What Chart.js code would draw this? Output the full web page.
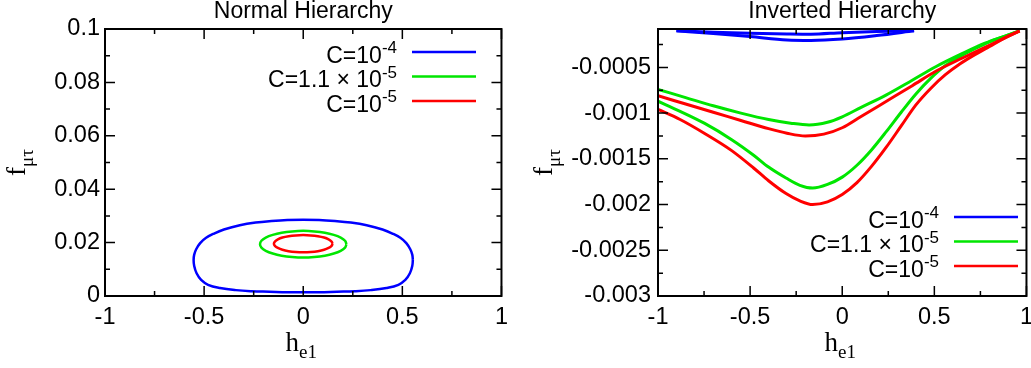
<!DOCTYPE html>
<html>
<head>
<meta charset="utf-8">
<script src="https://cdn.jsdelivr.net/npm/chart.js@4.4.1/dist/chart.umd.min.js"></script>
<style>
  html, body { margin: 0; padding: 0; background: #fff; overflow: hidden; width: 1031px; height: 368px; }
  #normal { position: absolute; left: 0; top: 0; }
  #inverted { position: absolute; left: 515px; top: 0; }
</style>
</head>
<body>
<canvas id="normal" width="515" height="368"></canvas>
<canvas id="inverted" width="525" height="368"></canvas>
<script>
// legend entries
var legendBase = ['C=10', 'C=1.1 \u00d7 10', 'C=10'];
var legendPower = ['-4', '-5', '-5'];
var lineColors = ['#0000ff', '#00e600', '#ff0000'];

// axis ticks
var xTicks = [-1, -0.5, 0, 0.5, 1];
var xTickLabels = ['-1', '-0.5', '0', '0.5', '1'];
var xMinor = [-0.75, -0.25, 0.25, 0.75];
var nhYTicks = [0, 0.02, 0.04, 0.06, 0.08, 0.1];
var nhYTickLabels = ['0', '0.02', '0.04', '0.06', '0.08', '0.1'];
var nhYMinor = [0.01, 0.03, 0.05, 0.07, 0.09];
var ihYTicks = [-0.003, -0.0025, -0.002, -0.0015, -0.001, -0.0005];
var ihYTickLabels = ['-0.003', '-0.0025', '-0.002', '-0.0015', '-0.001', '-0.0005'];
var ihYMinor = [-0.00275, -0.00225, -0.00175, -0.00125, -0.00075, -0.00025];

// Normal hierarchy: closed contours (h_e1, f_mu_tau)
var nhBlueX = [0.553, 0.55, 0.54, 0.52, 0.49, 0.45, 0.40, 0.32, 0.24, 0.16, 0.08, 0, -0.08, -0.16, -0.24, -0.32, -0.40, -0.45, -0.49, -0.52, -0.54, -0.55,
  -0.553, -0.55, -0.538, -0.515, -0.48, -0.42, -0.34, -0.26, -0.17, -0.08, 0, 0.08, 0.17, 0.26, 0.34, 0.42, 0.48, 0.515, 0.538, 0.55, 0.553];
var nhBlueY = [0.0135, 0.0155, 0.0175, 0.0198, 0.0218, 0.0234, 0.0249, 0.0265, 0.0275, 0.0281, 0.0285, 0.0286, 0.0285, 0.0281, 0.0275, 0.0265, 0.0249, 0.0234, 0.0218, 0.0198, 0.0175, 0.0155,
  0.0135, 0.0112, 0.0085, 0.0060, 0.0042, 0.0030, 0.0022, 0.0018, 0.0016, 0.0014, 0.0014, 0.0014, 0.0016, 0.0018, 0.0022, 0.0030, 0.0042, 0.0060, 0.0085, 0.0112, 0.0135];
var nhGreenX = [0.218, 0.211, 0.189, 0.154, 0.109, 0.056, 0, -0.056, -0.109, -0.154, -0.189, -0.211, -0.218, -0.211, -0.189, -0.154, -0.109, -0.056, 0, 0.056, 0.109, 0.154, 0.189, 0.211, 0.218];
var nhGreenY = [0.0194, 0.0207, 0.0219, 0.0229, 0.0237, 0.0242, 0.0244, 0.0242, 0.0237, 0.0229, 0.0219, 0.0207, 0.0194, 0.0181, 0.0169, 0.0159, 0.0151, 0.0146, 0.0144, 0.0146, 0.0151, 0.0159, 0.0169, 0.0181, 0.0194];
var nhRedX = [0.148, 0.143, 0.128, 0.105, 0.074, 0.038, 0, -0.038, -0.074, -0.105, -0.128, -0.143, -0.148, -0.143, -0.128, -0.105, -0.074, -0.038, 0, 0.038, 0.074, 0.105, 0.128, 0.143, 0.148];
var nhRedY = [0.0196, 0.0204, 0.0212, 0.0219, 0.0224, 0.0227, 0.0228, 0.0227, 0.0224, 0.0219, 0.0212, 0.0204, 0.0196, 0.0188, 0.018, 0.0173, 0.0168, 0.0165, 0.0164, 0.0165, 0.0168, 0.0173, 0.018, 0.0188, 0.0196];

// Inverted hierarchy: upper and lower branch of each contour
var ihBlueUpX = [-0.9, -0.7, -0.5, -0.3, -0.17, 0, 0.187, 0.39];
var ihBlueUpY = [-0.0001, -0.000115, -0.000126, -0.000134, -0.000137, -0.00012, -0.000108, -0.0001];
var ihBlueLoX = [-0.9, -0.7, -0.5, -0.3, -0.17, 0, 0.187, 0.39];
var ihBlueLoY = [-0.0001, -0.00013, -0.000163, -0.0002, -0.000205, -0.00019, -0.000152, -0.0001];
var ihGreenUpX = [-1, -0.85, -0.7, -0.55, -0.4, -0.28, -0.18, -0.08, 0, 0.1, 0.24, 0.38, 0.51, 0.65, 0.775, 0.88, 0.963];
var ihGreenUpY = [-0.00074, -0.00083, -0.00092, -0.001, -0.00107, -0.00111, -0.00113, -0.0011, -0.00104, -0.00094, -0.0008, -0.00064, -0.00049, -0.00035, -0.000235, -0.00016, -0.0001];
var ihGreenLoX = [-1, -0.88, -0.749, -0.6, -0.481, -0.4, -0.305, -0.23, -0.16, -0.08, 0, 0.08, 0.16, 0.24, 0.32, 0.40, 0.48, 0.56, 0.64, 0.72, 0.80, 0.88, 0.963];
var ihGreenLoY = [-0.00087, -0.00098, -0.00111, -0.00129, -0.00146, -0.00159, -0.00171, -0.00179, -0.00182, -0.00178, -0.0017, -0.00157, -0.0014, -0.0012, -0.00099, -0.00079, -0.00062, -0.00048, -0.00038, -0.000295, -0.00022, -0.00016, -0.0001];
var ihRedUpX = [-1, -0.85, -0.7, -0.55, -0.4, -0.3, -0.2, -0.1, 0, 0.1, 0.24, 0.38, 0.51, 0.65, 0.775, 0.88, 0.963];
var ihRedUpY = [-0.00081, -0.0009, -0.00099, -0.00108, -0.00117, -0.00122, -0.00125, -0.00123, -0.00116, -0.00104, -0.00087, -0.0007, -0.00054, -0.0004, -0.00028, -0.00018, -0.0001];
var ihRedLoX = [-1, -0.88, -0.749, -0.6, -0.481, -0.4, -0.305, -0.23, -0.16, -0.08, 0, 0.08, 0.16, 0.24, 0.32, 0.40, 0.48, 0.56, 0.64, 0.72, 0.80, 0.88, 0.963];
var ihRedLoY = [-0.00096, -0.00107, -0.00122, -0.00141, -0.0016, -0.00174, -0.00188, -0.00196, -0.002, -0.00197, -0.00189, -0.00176, -0.00158, -0.00137, -0.00114, -0.00091, -0.00073, -0.00058, -0.00046, -0.00036, -0.00027, -0.00018, -0.0001];

var SANS = '"Liberation Sans", Arial, Helvetica, sans-serif';
var SERIF = '"Liberation Serif", "Times New Roman", serif';
Chart.defaults.font.family = SANS;
Chart.defaults.color = '#000';

function pts(xs, ys) {
  var out = [];
  for (var i = 0; i < xs.length; i++) out.push({x: xs[i], y: ys[i]});
  return out;
}

// closed loop, smoothed with bezier tension
function loop(xs, ys, k) {
  return {
    data: pts(xs, ys), showLine: true, borderColor: lineColors[k],
    borderWidth: 2.5, pointRadius: 0, tension: 0.4, order: 3 - k
  };
}
// branch with x increasing
function branch(xs, ys, k) {
  return {
    data: pts(xs, ys), showLine: true, borderColor: lineColors[k],
    borderWidth: 3, pointRadius: 0, cubicInterpolationMode: 'monotone', order: 3 - k
  };
}

// text with a sub/superscript tail, laid out from x0
function drawScript(ctx, main, small, x0, y, fMain, fSmall, shift) {
  ctx.font = fMain;
  var w = ctx.measureText(main).width;
  ctx.fillText(main, x0, y);
  ctx.font = fSmall;
  ctx.fillText(small, x0 + w, y + shift);
}
function scriptWidth(ctx, main, small, fMain, fSmall) {
  ctx.font = fMain;
  var w = ctx.measureText(main).width;
  ctx.font = fSmall;
  return w + ctx.measureText(small).width;
}

var decor = {
  id: 'decor',
  afterDraw: function(chart, args, o) {
    var ctx = chart.ctx, a = chart.chartArea;
    var xs = chart.scales.x, ys = chart.scales.y;
    ctx.save();
    ctx.strokeStyle = '#000';
    ctx.fillStyle = '#000';
    ctx.lineWidth = 1.5;
    ctx.beginPath();
    function xt(list, len) {
      list.forEach(function(v) {
        var p = xs.getPixelForValue(v);
        ctx.moveTo(p, a.bottom); ctx.lineTo(p, a.bottom - len);
        ctx.moveTo(p, a.top); ctx.lineTo(p, a.top + len);
      });
    }
    function yt(list, len) {
      list.forEach(function(v) {
        var p = ys.getPixelForValue(v);
        ctx.moveTo(a.left, p); ctx.lineTo(a.left + len, p);
        ctx.moveTo(a.right, p); ctx.lineTo(a.right - len, p);
      });
    }
    xt(xTicks, 10); xt(xMinor, 5);
    yt(o.yMajor, 10); yt(o.yMinor, 5);
    ctx.stroke();
    ctx.lineWidth = 2;
    ctx.strokeRect(a.left, a.top, a.right - a.left, a.bottom - a.top);

    // legend: right aligned label, then a line sample
    var fMain = '23px ' + SANS, fSup = '17px ' + SANS;
    ctx.textAlign = 'left';
    ctx.textBaseline = 'alphabetic';
    for (var i = 0; i < legendBase.length; i++) {
      var ry = o.legendTop + i * 24.5;
      var w = scriptWidth(ctx, legendBase[i], legendPower[i], fMain, fSup);
      drawScript(ctx, legendBase[i], legendPower[i], o.textRight - w, ry + 10.5, fMain, fSup, -9.5);
      ctx.strokeStyle = lineColors[i];
      ctx.lineWidth = 2.5;
      ctx.beginPath();
      ctx.moveTo(o.textRight + 15, ry);
      ctx.lineTo(o.textRight + 79, ry);
      ctx.stroke();
    }

    // axis titles
    var tMain = '27px ' + SERIF, tSub = '19px ' + SERIF;
    var cx = (a.left + a.right) / 2;
    var wx = scriptWidth(ctx, 'h', 'e1', tMain, tSub);
    drawScript(ctx, 'h', 'e1', cx - wx / 2 - 2, 351, tMain, tSub, 7);
    var cy = (a.top + a.bottom) / 2;
    var wy = scriptWidth(ctx, 'f', '\u03bc\u03c4', tMain, tSub);
    ctx.translate(o.yTitleX, cy);
    ctx.rotate(-Math.PI / 2);
    drawScript(ctx, 'f', '\u03bc\u03c4', -wy / 2, 0, tMain, tSub, 8);
    ctx.restore();
  }
};

function makeChart(id, title, datasets, yMin, yMax, yTicks, yLabels, yWidth, padRight, deco) {
  return new Chart(document.getElementById(id), {
    type: 'scatter',
    data: {datasets: datasets},
    options: {
      responsive: false,
      animation: false,
      layout: {padding: {left: 0, right: padRight, top: 0, bottom: 0}},
      plugins: {
        legend: {display: false},
        tooltip: {enabled: false},
        title: {
          display: true, text: title, fullSize: false,
          font: {size: 23, weight: 'normal', lineHeight: 1.0},
          padding: {top: 0, bottom: 6}, color: '#000'
        },
        decor: deco
      },
      scales: {
        x: {
          type: 'linear', min: -1, max: 1,
          grid: {display: false, drawTicks: false}, border: {display: false},
          afterBuildTicks: function(s) { s.ticks = xTicks.map(function(v) { return {value: v}; }); },
          afterFit: function(s) { s.height = 72; },
          ticks: {font: {size: 23.5}, padding: 7, maxRotation: 0,
            callback: function(v, i) { return xTickLabels[i]; }}
        },
        y: {
          type: 'linear', min: yMin, max: yMax,
          grid: {display: false, drawTicks: false}, border: {display: false},
          afterBuildTicks: function(s) { s.ticks = yTicks.map(function(v) { return {value: v}; }); },
          afterFit: function(s) { s.width = yWidth; },
          ticks: {font: {size: 23.5}, padding: deco.labelPad,
            callback: function(v, i) { return yLabels[i]; }}
        }
      }
    },
    plugins: [decor]
  });
}

makeChart('normal', 'Normal Hierarchy',
  [loop(nhBlueX, nhBlueY, 0), loop(nhGreenX, nhGreenY, 1), loop(nhRedX, nhRedY, 2)],
  0, 0.1, nhYTicks, nhYTickLabels, 105, 12,
  {yMajor: nhYTicks, yMinor: nhYMinor, legendTop: 52, textRight: 397, yTitleX: 25, labelPad: 5});

makeChart('inverted', 'Inverted Hierarchy',
  [branch(ihBlueUpX, ihBlueUpY, 0), branch(ihBlueLoX, ihBlueLoY, 0),
   branch(ihGreenUpX, ihGreenUpY, 1), branch(ihGreenLoX, ihGreenLoY, 1),
   branch(ihRedUpX, ihRedUpY, 2), branch(ihRedLoX, ihRedLoY, 2)],
  -0.003, -0.00008, ihYTicks, ihYTickLabels, 143, 10,
  {yMajor: ihYTicks, yMinor: ihYMinor, legendTop: 217, textRight: 424, yTitleX: 37, labelPad: 7});
</script>
</body>
</html>
